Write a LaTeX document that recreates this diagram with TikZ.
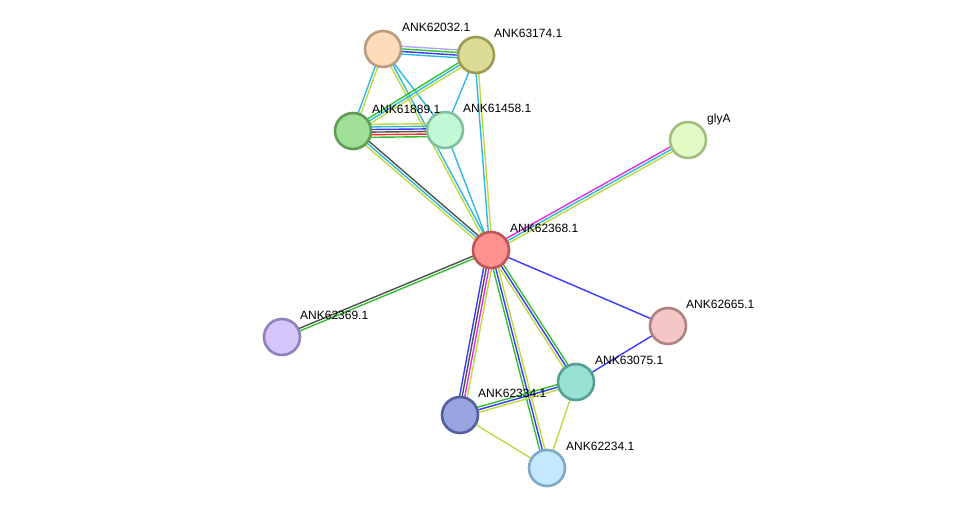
\documentclass[tikz,border=0pt]{standalone}
\usepackage{fontspec}
\setmainfont{Liberation Sans}
\usetikzlibrary{calc}

\definecolor{tmine}{HTML}{C0D840}
\definecolor{dbase}{HTML}{30B8E0}
\definecolor{exper}{HTML}{E030E0}
\definecolor{coexp}{HTML}{505050}
\definecolor{neigh}{HTML}{30C030}
\definecolor{fusio}{HTML}{FF2828}
\definecolor{cooc}{HTML}{3838FF}
\definecolor{homol}{HTML}{B0A8FF}

\pgfdeclarelayer{bg}
\pgfsetlayers{bg,main}

\tikzset{
  prot/.style={circle, minimum size=36pt, inner sep=0pt, line width=2.6pt},
  lbl/.style={anchor=base west, inner sep=0pt, font=\fontsize{12}{14}\selectfont},
}

% parallel coloured lines between two proteins
\newcommand{\strlink}[3]{%
  \foreach \c [count=\i] in {#3} {\xdef\nlines{\i}}%
  \foreach \c [count=\i] in {#3} {%
    \pgfmathsetmacro{\off}{((\nlines+1)/2-\i)*2.6}%
    \draw[\c, line width=1.4pt] ($(#1.center)!\off pt!90:(#2.center)$) -- ($(#2.center)!\off pt!-90:(#1.center)$);
  }}

\begin{document}
\begin{tikzpicture}[x=1pt, y=-1pt]
    \useasboundingbox (0,0) rectangle (975,514);
    % Proteins
    \node[prot, fill={rgb,255:red,255;green,220;blue,185}, draw={rgb,255:red,185;green,155;blue,125}] (p62032) at (383,49) {};
    \node[prot, fill={rgb,255:red,220;green,220;blue,150}, draw={rgb,255:red,155;green,155;blue,85}] (p63174) at (476,55) {};
    \node[prot, fill={rgb,255:red,160;green,224;blue,150}, draw={rgb,255:red,95;green,155;blue,85}] (p61889) at (353,131) {};
    \node[prot, fill={rgb,255:red,195;green,248;blue,215}, draw={rgb,255:red,130;green,190;blue,160}] (p61458) at (445,130) {};
    \node[prot, fill={rgb,255:red,225;green,250;blue,195}, draw={rgb,255:red,160;green,190;blue,125}] (pglyA) at (688,140) {};
    \node[prot, fill={rgb,255:red,255;green,145;blue,145}, draw={rgb,255:red,190;green,85;blue,85}] (p62368) at (491,250) {};
    \node[prot, fill={rgb,255:red,212;green,197;blue,250}, draw={rgb,255:red,145;green,128;blue,190}] (p62369) at (282,337) {};
    \node[prot, fill={rgb,255:red,245;green,198;blue,198}, draw={rgb,255:red,175;green,130;blue,130}] (p62665) at (668,326) {};
    \node[prot, fill={rgb,255:red,150;green,224;blue,212}, draw={rgb,255:red,85;green,158;blue,145}] (p63075) at (576,382) {};
    \node[prot, fill={rgb,255:red,152;green,165;blue,224}, draw={rgb,255:red,85;green,95;blue,160}] (p62334) at (460,415) {};
    \node[prot, fill={rgb,255:red,195;green,232;blue,255}, draw={rgb,255:red,128;green,168;blue,200}] (p62234) at (547,468) {};
    % Names
    \node[lbl] (l62032) at ($(p62032)+(19,-18)$) {ANK62032.1};
    \node[lbl] (l63174) at ($(p63174)+(18,-18)$) {ANK63174.1};
    \node[lbl] (l61889) at ($(p61889)+(19,-18)$) {ANK61889.1};
    \node[lbl] (l61458) at ($(p61458)+(18,-18)$) {ANK61458.1};
    \node[lbl] (lglyA) at ($(pglyA)+(19,-18)$) {glyA};
    \node[lbl] (l62368) at ($(p62368)+(19,-18)$) {ANK62368.1};
    \node[lbl] (l62369) at ($(p62369)+(18,-18)$) {ANK62369.1};
    \node[lbl] (l62665) at ($(p62665)+(18,-18)$) {ANK62665.1};
    \node[lbl] (l63075) at ($(p63075)+(19,-18)$) {ANK63075.1};
    \node[lbl] (l62334) at ($(p62334)+(18,-18)$) {ANK62334.1};
    \node[lbl] (l62234) at ($(p62234)+(19,-18)$) {ANK62234.1};
    % Links
    \begin{pgfonlayer}{bg}
    \strlink{p62032}{p63174}{homol,neigh,cooc,dbase}
    \strlink{p62032}{p61889}{tmine,dbase}
    \strlink{p62032}{p61458}{dbase}
    \strlink{p62032}{p62368}{dbase,tmine}
    \strlink{p63174}{p61889}{tmine,dbase,neigh}
    \strlink{p63174}{p61458}{dbase}
    \strlink{p63174}{p62368}{tmine,dbase}
    \strlink{p61889}{p61458}{tmine,dbase,cooc,coexp,fusio,neigh}
    \strlink{p61889}{p62368}{coexp,dbase,tmine}
    \strlink{p61458}{p62368}{dbase}
    \strlink{p62368}{pglyA}{exper,dbase,tmine}
    \strlink{p62368}{p62369}{neigh,coexp}
    \strlink{p62368}{p62665}{cooc}
    \strlink{p62368}{p62334}{tmine,exper,coexp,cooc}
    \strlink{p62368}{p62234}{tmine,cooc,neigh}
    \strlink{p62368}{p63075}{neigh,cooc,tmine}
    \strlink{p62665}{p63075}{cooc}
    \strlink{p62334}{p63075}{neigh,cooc,tmine}
    \strlink{p62334}{p62234}{tmine}
    \strlink{p63075}{p62234}{tmine}
    \end{pgfonlayer}
\end{tikzpicture}
\end{document}
